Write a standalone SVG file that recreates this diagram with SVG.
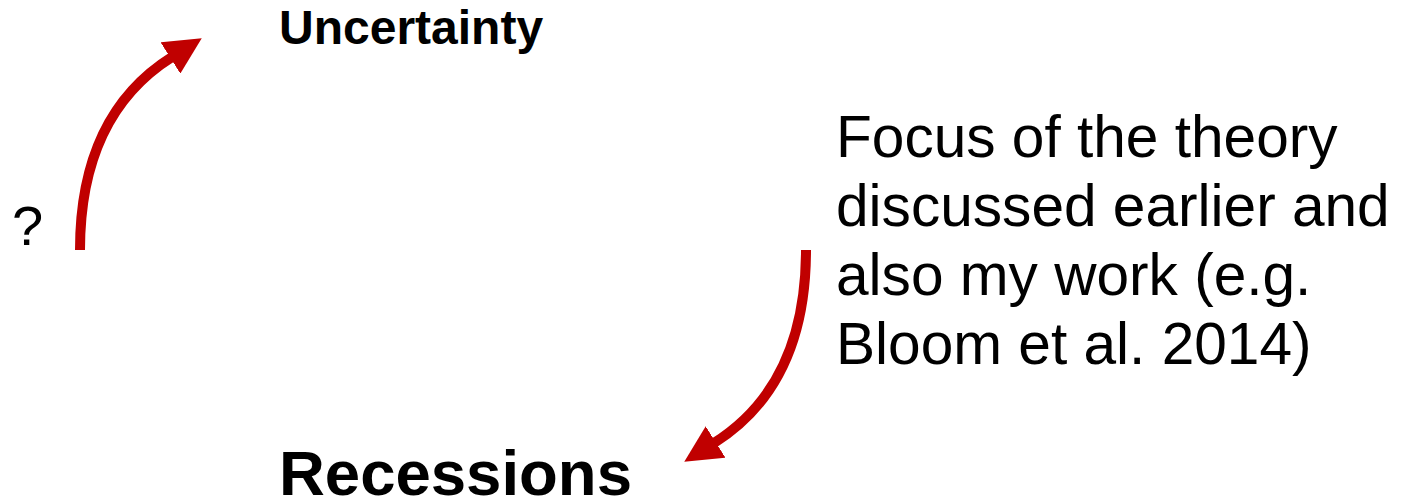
<svg xmlns="http://www.w3.org/2000/svg" width="1410" height="500" viewBox="0 0 1410 500">
<style>
.t{font-family:"Liberation Sans",Arial,sans-serif;fill:#000}
.b{font-weight:bold}
.arr{fill:none;stroke:#C00000;stroke-width:10}
</style>
<defs>
<marker id="ah" viewBox="0 0 10 10" refX="0.5" refY="5" markerWidth="3.7" markerHeight="3.7" orient="auto" markerUnits="strokeWidth">
<path d="M0,0 L10,5 L0,10 z" fill="#C00000"/>
</marker>
</defs>
<rect width="1410" height="500" fill="#fff"/>
<g id="uncertainty"><text class="t b" x="279" y="44" font-size="48">Uncertainty</text></g>
<g id="recessions"><text class="t b" x="279" y="495" font-size="63.5">Recessions</text></g>
<g id="question"><text class="t" x="12" y="245" font-size="56">?</text></g>
<g id="focus"><text class="t" font-size="58.6"><tspan x="836" y="157">Focus of the theory</tspan><tspan x="836" y="226">discussed earlier and</tspan><tspan x="836" y="295">also my work (e.g.</tspan><tspan x="836" y="364">Bloom et al. 2014)</tspan></text></g>
<g id="connectors">
<path class="arr" d="M80,250 C80,160 110,96 172,57" marker-end="url(#ah)"/>
<path class="arr" d="M806,250 C806,340 776,404 714,443" marker-end="url(#ah)"/>
</g>
</svg>
